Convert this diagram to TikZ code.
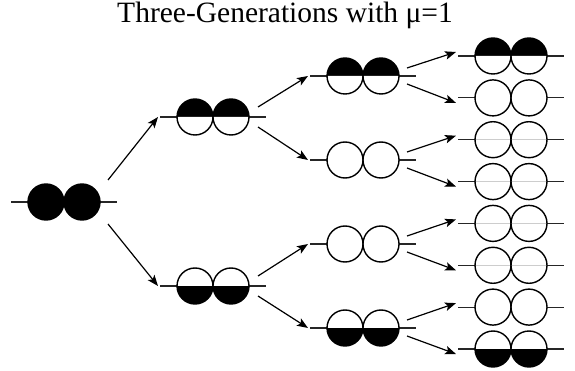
\documentclass[tikz,border=0pt]{standalone}
\usepackage{fontspec}
\setmainfont{Liberation Serif}
\usetikzlibrary{arrows.meta}

\tikzset{
  % one individual: a pair of alleles on a line, each circle split into an upper and a lower half
  indiv/.style 2 args={
    minimum width=106pt, minimum height=40pt, inner sep=0pt, outer sep=0pt,
    path picture={
      \begin{scope}[shift={(path picture bounding box.center)}]
        \draw[line width=1.1pt, black!85] (-53pt,0pt) -- (53pt,0pt);
        \foreach \cx in {-18pt,18pt}{
          \fill[#1] (\cx,0pt) ++(18pt,0pt) arc[start angle=0,end angle=180,radius=18pt] -- cycle;
          \fill[#2] (\cx,0pt) ++(-18pt,0pt) arc[start angle=180,end angle=360,radius=18pt] -- cycle;
          \draw[line width=1.4pt] (\cx,0pt) circle[radius=18pt];
        }
      \end{scope}}},
  link/.style={line width=1.2pt, -{Stealth[length=11pt,width=8.5pt,inset=2.5pt]}},
  titletext/.style={font=\fontsize{29.5}{34}\selectfont, inner sep=0pt, anchor=base}
}

\begin{document}
\begin{tikzpicture}[x=1pt,y=-1pt]
  \useasboundingbox (0,0) rectangle (575,371);

  \node[titletext] (title) at (285,23) {Three-Generations with μ=1};

  % generation 0
  \node[indiv={black}{black}] (g0) at (64,202) {};

  % generation 1
  \node[indiv={black}{white}] (g1a) at (213,117) {};
  \node[indiv={white}{black}] (g1b) at (213,286) {};

  % generation 2
  \node[indiv={black}{white}] (g2a) at (363,76) {};
  \node[indiv={white}{white}] (g2b) at (363,160) {};
  \node[indiv={white}{white}] (g2c) at (363,244) {};
  \node[indiv={white}{black}] (g2d) at (363,328) {};

  % generation 3
  \node[indiv={black}{white}] (g3a) at (511,56) {};
  \node[indiv={white}{white}] (g3b) at (511,97.9) {};
  \node[indiv={white}{white}] (g3c) at (511,139.7) {};
  \node[indiv={white}{white}] (g3d) at (511,181.6) {};
  \node[indiv={white}{white}] (g3e) at (511,223.4) {};
  \node[indiv={white}{white}] (g3f) at (511,265.3) {};
  \node[indiv={white}{white}] (g3g) at (511,307.1) {};
  \node[indiv={white}{black}] (g3h) at (511,349) {};

  % offspring links
  \draw[link] ([xshift=-9pt,yshift=22pt]g0.east) -- ([xshift=-2pt]g1a.west);
  \draw[link] ([xshift=-9pt,yshift=-22pt]g0.east) -- ([xshift=-2pt]g1b.west);

  \draw[link] ([xshift=-8pt,yshift=10pt]g1a.east) -- ([xshift=-2pt]g2a.west);
  \draw[link] ([xshift=-8pt,yshift=-10pt]g1a.east) -- ([xshift=-2pt]g2b.west);
  \draw[link] ([xshift=-8pt,yshift=10pt]g1b.east) -- ([xshift=-2pt]g2c.west);
  \draw[link] ([xshift=-8pt,yshift=-10pt]g1b.east) -- ([xshift=-2pt]g2d.west);

  \draw[link] ([xshift=-9pt,yshift=8pt]g2a.east) -- ([xshift=-2pt,yshift=4pt]g3a.west);
  \draw[link] ([xshift=-9pt,yshift=-8pt]g2a.east) -- ([xshift=-2pt,yshift=-5pt]g3b.west);
  \draw[link] ([xshift=-9pt,yshift=8pt]g2b.east) -- ([xshift=-2pt,yshift=4pt]g3c.west);
  \draw[link] ([xshift=-9pt,yshift=-8pt]g2b.east) -- ([xshift=-2pt,yshift=-5pt]g3d.west);
  \draw[link] ([xshift=-9pt,yshift=8pt]g2c.east) -- ([xshift=-2pt,yshift=4pt]g3e.west);
  \draw[link] ([xshift=-9pt,yshift=-8pt]g2c.east) -- ([xshift=-2pt,yshift=-5pt]g3f.west);
  \draw[link] ([xshift=-9pt,yshift=8pt]g2d.east) -- ([xshift=-2pt,yshift=4pt]g3g.west);
  \draw[link] ([xshift=-9pt,yshift=-8pt]g2d.east) -- ([xshift=-2pt,yshift=-5pt]g3h.west);
\end{tikzpicture}
\end{document}
